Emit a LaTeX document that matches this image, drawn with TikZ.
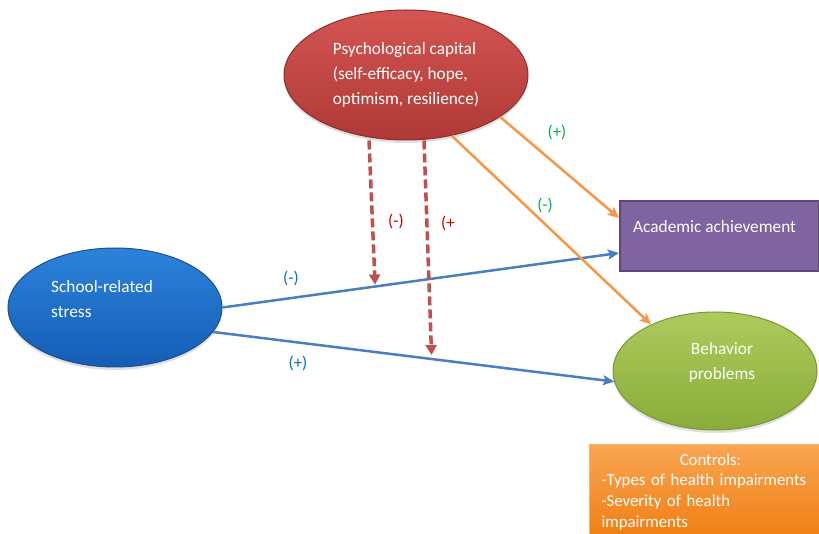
\documentclass[tikz,border=0pt]{standalone}
\usepackage{fontspec}
\setmainfont{Carlito}
\usetikzlibrary{shapes.geometric}
\usetikzlibrary{positioning}
\usetikzlibrary{arrows.meta}
\usetikzlibrary{shadows}
\definecolor{captop}{HTML}{D45552}
\definecolor{capbottom}{HTML}{AE3936}
\definecolor{capborder}{HTML}{8E2F2C}
\definecolor{stresstop}{HTML}{2C82DA}
\definecolor{stressbottom}{HTML}{145DB5}
\definecolor{stressborder}{HTML}{1D4F8E}
\definecolor{behavetop}{HTML}{ADCB5C}
\definecolor{behavebottom}{HTML}{89AC3A}
\definecolor{behaveborder}{HTML}{7A9636}
\definecolor{achfill}{HTML}{8064A2}
\definecolor{achborder}{HTML}{5D4878}
\definecolor{ctrltop}{HTML}{F9A552}
\definecolor{ctrlbottom}{HTML}{F07E12}
\definecolor{ctrlborder}{HTML}{F9B46E}
\definecolor{pathblue}{HTML}{4A7EBF}
\definecolor{pathorange}{HTML}{F79646}
\definecolor{modred}{HTML}{C0504D}
\definecolor{signgreen}{HTML}{00B050}
\definecolor{signred}{HTML}{C00000}
\definecolor{signblue}{HTML}{0070C0}
\tikzset{%
  oval/.style = {ellipse,draw,line width=1pt,inner sep=0pt,
        drop shadow={opacity=0.25,shadow xshift=0pt,shadow yshift=-3pt}},
  plate/.style = {rectangle,draw,inner sep=0pt},
  txt/.style = {text=white,font=\fontsize{17.3}{25}\selectfont,inner sep=0pt},
  sign/.style = {font=\fontsize{17}{20}\selectfont,inner sep=0pt},
  effect/.style = {-{Stealth[length=11pt,width=10pt,inset=2pt]},line width=2.5pt},
  moderate/.style = {-{Triangle[length=10pt,width=11pt]},line width=3.5pt,
        dash pattern=on 9pt off 4pt}
}

\begin{document}
\begin{tikzpicture}[x=1pt,y=-1pt]
  \useasboundingbox (0,0) rectangle (819,534);
  \clip (0,0) rectangle (819,534);
  % constructs
  \node[oval,draw=capborder,top color=captop,bottom color=capbottom,
        minimum width=244pt,minimum height=130pt,txt,align=left]
        (capital) at (406,75)
        {Psychological capital\\(self-efficacy, hope,\\optimism, resilience)};
  \node[oval,draw=stressborder,top color=stresstop,bottom color=stressbottom,
        minimum width=214pt,minimum height=119pt] (stress) at (115,307.5) {};
  \node[txt,align=left,anchor=west] (stresslabel) at (51,299)
        {School-related\\stress};
  \node[plate,draw=achborder,fill=achfill,line width=2pt,anchor=north west,
        minimum width=199pt,minimum height=70pt] (achieve) at (619,200) {};
  \node[txt,anchor=west] (achievelabel) at (633,227) {Academic achievement};
  \node[oval,draw=behaveborder,top color=behavetop,bottom color=behavebottom,
        minimum width=204pt,minimum height=118pt] (behave) at (715,371) {};
  \node[txt,align=center] (behavelabel) at (722,362) {Behavior\\problems};
  \node[plate,draw=ctrlborder,top color=ctrltop,bottom color=ctrlbottom,
        line width=1pt,anchor=north west,inner xsep=12pt,inner ysep=9pt,
        text width=218pt,align=left,text=white,
        font=\fontsize{16.8}{20.7}\selectfont] (controls) at (589,444)
        {\hspace*{\fill}Controls:\hspace*{\fill}\mbox{}\\-Types of health impairments\\
         -Severity of health\\impairments};
  % paths
  \draw[effect,color=pathblue] (stress.east)
        -- coordinate[pos=0.385] (lowA) ([yshift=-17pt]achieve.west);
  \draw[effect,color=pathblue] (stress.-14)
        -- coordinate[pos=0.545] (lowB) (behave.186);
  \draw[effect,color=pathorange] (capital.-24) -- ([yshift=18pt]achieve.west);
  \draw[effect,color=pathorange] (capital.-53) -- (behave.144);
  \draw[moderate,color=modred,shorten >=2pt] ([xshift=-37pt]capital.south) -- (lowA);
  \draw[moderate,color=modred,shorten >=4pt] ([xshift=18pt]capital.south) -- (lowB);
  % signs
  \node[sign,text=signgreen] (capachsign) at (557,132) {(+)};
  \node[sign,text=signgreen] (capbehsign) at (545,205) {(-)};
  \node[sign,text=signred] (modasign) at (396,221) {(-)};
  \node[sign,text=signred] (modbsign) at (448,223) {(+};
  \node[sign,text=signblue] (stachsign) at (291,278) {(-)};
  \node[sign,text=signblue] (stbehsign) at (298,363) {(+)};
\end{tikzpicture}
\end{document}
